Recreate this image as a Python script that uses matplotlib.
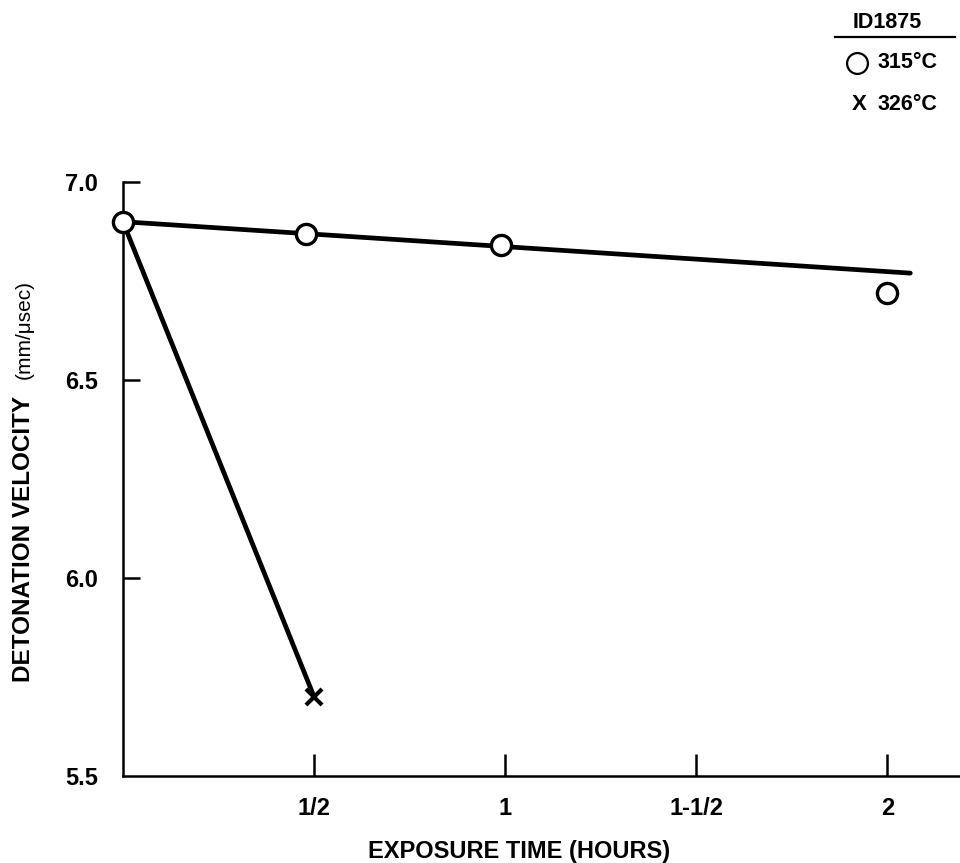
import matplotlib
matplotlib.use("Agg")
import matplotlib.pyplot as plt
from matplotlib.lines import Line2D

plt.rcParams['font.family'] = ['Liberation Sans', 'DejaVu Sans']

# Exposure time (hours) and detonation velocity (mm/usec)
t_315 = [0.0, 0.48, 0.99, 2.0]
v_315 = [6.90, 6.87, 6.84, 6.72]
fit_315_t = [0.0, 2.06]
fit_315_v = [6.90, 6.77]

t_326 = [0.0, 0.50]
v_326 = [6.90, 5.70]

x_ticks = [0.5, 1.0, 1.5, 2.0]
x_labels = ["1/2", "1", "1-1/2", "2"]
y_ticks = [5.5, 6.0, 6.5, 7.0]
y_labels = ["5.5", "6.0", "6.5", "7.0"]

W, H = 960, 863
fig = plt.figure(figsize=(W / 100, H / 100), dpi=100)
ax = fig.add_axes([0.128, 0.101, 0.872, 0.688])
ax.set_xlim(0, 2.19)
ax.set_ylim(5.5, 7.0)

for s in ("top", "right"):
    ax.spines[s].set_visible(False)
for s in ("left", "bottom"):
    ax.spines[s].set_linewidth(1.8)

# 326 C line with its end point
ax.plot(t_326, v_326, color="black", lw=3.4, solid_capstyle="round", zorder=2)
ax.plot(t_326[1:], v_326[1:], ls="none", marker="x", ms=11, mew=3.0,
        color="black", zorder=3)

# 315 C fitted line and measured points
ax.plot(fit_315_t, fit_315_v, color="black", lw=3.4, solid_capstyle="round", zorder=2)
ax.plot(t_315, v_315, ls="none", marker="o", ms=14.5, mew=2.4,
        mfc="white", mec="black", zorder=4, clip_on=False)

ax.set_xticks(x_ticks)
ax.set_xticklabels(x_labels, fontsize=17, fontweight="bold")
ax.set_yticks(y_ticks)
ax.set_yticklabels(y_labels, fontsize=17, fontweight="bold")
ax.tick_params(axis="x", direction="in", length=16, width=1.8, pad=15)
ax.tick_params(axis="y", direction="in", length=12, width=1.8, pad=18)
ax.yaxis.get_major_ticks()[0].tick1line.set_visible(False)

fig.text(519 / W, 1 - 851 / H, "EXPOSURE TIME (HOURS)", ha="center", va="center",
         fontsize=17, fontweight="bold")
fig.text(24 / W, 1 - 682 / H, "DETONATION VELOCITY", rotation=90,
         ha="center", va="bottom", fontsize=17.5, fontweight="bold")
fig.text(24 / W, 1 - 379 / H, "(mm/\u03bcsec)", rotation=90,
         ha="center", va="bottom", fontsize=15)

# Key in the upper right corner
fig.text(887 / W, 1 - 23 / H, "ID1875", ha="center", va="center",
         fontsize=15.5, fontweight="bold")
fig.add_artist(Line2D([835 / W, 955 / W], [1 - 37 / H, 1 - 37 / H],
                      color="black", lw=1.6, transform=fig.transFigure))
fig.add_artist(Line2D([857 / W], [1 - 63 / H], marker="o", ms=15, mew=1.6,
                      mfc="white", mec="black", ls="none",
                      transform=fig.transFigure))
fig.text(878 / W, 1 - 63 / H, "315\u00b0C", ha="left", va="center",
         fontsize=15.5, fontweight="bold")
fig.text(859 / W, 1 - 104 / H, "X", ha="center", va="center",
         fontsize=16, fontweight="bold")
fig.text(878 / W, 1 - 104 / H, "326\u00b0C", ha="left", va="center",
         fontsize=15.5, fontweight="bold")

fig.savefig("out.png", dpi=100, facecolor="white")
